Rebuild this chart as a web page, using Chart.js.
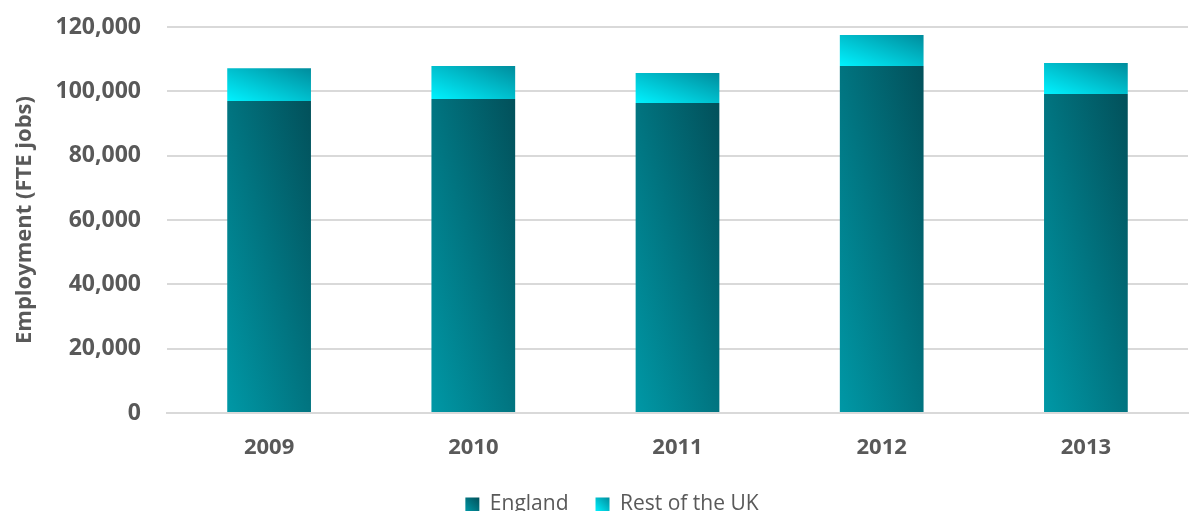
<!DOCTYPE html>
<html>
<head>
<meta charset="utf-8">
<script src="https://cdn.jsdelivr.net/npm/chart.js@4.4.1/dist/chart.umd.min.js"></script>
<style>
  html, body { margin: 0; padding: 0; background: #ffffff; overflow: hidden; }
  #wrap { width: 1192px; height: 525px; position: relative; }
</style>
</head>
<body>
<div id="wrap"><canvas id="chart"></canvas></div>
<script>
// ---- data ----
const categories = ['2009', '2010', '2011', '2012', '2013'];
const seriesNames = ['England', 'Rest of the UK'];
const england = [97000, 97600, 96400, 107900, 99200];
const restOfUK = [10200, 10300, 9300, 9600, 9600];
const yTickValues = [0, 20000, 40000, 60000, 80000, 100000, 120000];
const yAxisTitle = 'Employment (FTE jobs)';

// ---- styles ----
const TEXT = '#595959';
const GRID = '#d9d9d9';
const GRAD = [
  ['#0098a6', '#02505a'],   // England: bottom-left -> top-right
  ['#00f2ff', '#008c9c']    // Rest of the UK
];
const BAR_PCT = 0.41;

// gradient whose isolines run along the top-left/bottom-right diagonal of the box
function boxGradient(ctx2d, left, top, w, h, c0, c1) {
  const L2 = w * w + h * h;
  const x0 = left, y0 = top + h;
  const x1 = x0 + 2 * w * h * h / L2;
  const y1 = y0 - 2 * w * w * h / L2;
  const g = ctx2d.createLinearGradient(x0, y0, x1, y1);
  g.addColorStop(0, c0);
  g.addColorStop(1, c1);
  return g;
}

function barFill(context) {
  const chart = context.chart;
  const di = context.datasetIndex;
  if (!chart.chartArea || context.type !== 'data') return GRAD[di][1];
  const xs = chart.scales.x, ys = chart.scales.y;
  const cx = xs.getPixelForValue(context.dataIndex);
  const catW = (xs.right - xs.left) / categories.length;
  const w = catW * BAR_PCT;
  let lo = 0, hi = 0;
  for (let k = 0; k <= di; k++) {
    const v = chart.data.datasets[k].data[context.dataIndex];
    lo = hi; hi += v;
  }
  const yTop = ys.getPixelForValue(hi), yBot = ys.getPixelForValue(lo);
  return boxGradient(chart.ctx, cx - w / 2, yTop, w, Math.max(1, yBot - yTop), GRAD[di][0], GRAD[di][1]);
}

const legendGradientPlugin = {
  id: 'legendGradient',
  beforeDraw(chart) {
    const lg = chart.legend;
    if (!lg || !lg.legendItems || !lg.legendHitBoxes) return;
    const bw = lg.options.labels.boxWidth;
    lg.legendItems.forEach((item, i) => {
      const hb = lg.legendHitBoxes[i];
      if (!hb) return;
      const top = hb.top + (hb.height - bw) / 2;
      item.fillStyle = boxGradient(chart.ctx, hb.left, top, bw, bw, GRAD[i][0], GRAD[i][1]);
    });
  }
};

new Chart(document.getElementById('chart'), {
  type: 'bar',
  data: {
    labels: categories,
    datasets: [
      { label: seriesNames[0], data: england, backgroundColor: barFill, borderWidth: 0,
        categoryPercentage: 1.0, barPercentage: BAR_PCT },
      { label: seriesNames[1], data: restOfUK, backgroundColor: barFill, borderWidth: 0,
        categoryPercentage: 1.0, barPercentage: BAR_PCT }
    ]
  },
  options: {
    responsive: true,
    maintainAspectRatio: false,
    animation: false,
    layout: { padding: { left: 36, right: 4, top: 27, bottom: 0 } },
    plugins: {
      tooltip: { enabled: false },
      legend: {
        position: 'bottom',
        labels: {
          color: TEXT,
          font: { family: 'Open Sans', size: 21 },
          boxWidth: 14,
          boxHeight: 14,
          padding: 27,
          generateLabels(chart) {
            return chart.data.datasets.map((ds, i) => ({
              text: ds.label,
              fillStyle: GRAD[i][1],
              strokeStyle: 'rgba(0,0,0,0)',
              lineWidth: 0,
              hidden: false,
              datasetIndex: i,
              fontColor: TEXT
            }));
          }
        }
      }
    },
    scales: {
      x: {
        stacked: true,
        grid: { display: false, drawTicks: false },
        border: { display: true, color: GRID, width: 2 },
        afterFit(axis) { axis.height = 54; },
        ticks: { color: TEXT, font: { family: 'Open Sans', size: 22, weight: 'bold' }, padding: 22 }
      },
      y: {
        stacked: true,
        min: 0,
        max: 120000,
        afterBuildTicks(axis) { axis.ticks = yTickValues.map(v => ({ value: v })); },
        afterFit(axis) { axis.width = 131; axis.paddingTop = 0; axis.paddingBottom = 0; },
        grid: { color: GRID, lineWidth: 2, drawTicks: false },
        border: { display: false },
        ticks: {
          color: TEXT,
          font: { family: 'Open Sans', size: 23, weight: 'bold' },
          padding: 26,
          callback: v => Number(v).toLocaleString('en-US')
        },
        title: {
          display: true,
          text: yAxisTitle,
          color: TEXT,
          font: { family: 'Open Sans', size: 22, weight: 'bold' },
          padding: { top: -24, bottom: 4 }
        }
      }
    }
  },
  plugins: [legendGradientPlugin]
});
</script>
</body>
</html>
